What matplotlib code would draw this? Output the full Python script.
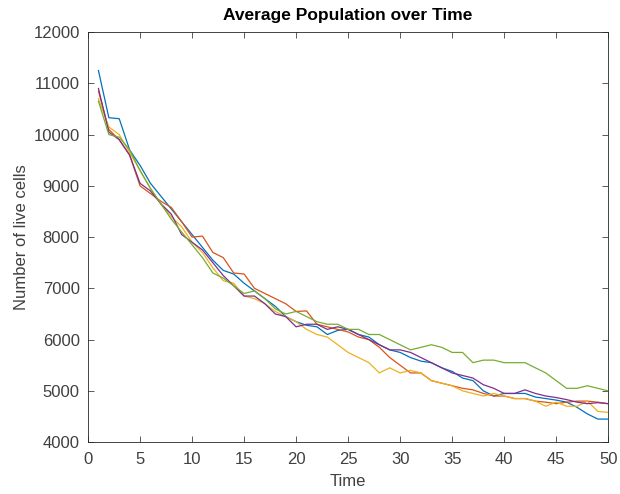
import matplotlib
matplotlib.use("Agg")
import matplotlib.pyplot as plt
import numpy as np

time = np.arange(1, 51)

blue = [11250, 10330, 10310, 9700, 9400, 9050, 8800, 8550, 8300, 8050,
        7800, 7550, 7350, 7280, 7100, 6950, 6800, 6650, 6450, 6350,
        6280, 6250, 6100, 6180, 6200, 6100, 6050, 5900, 5800, 5750,
        5650, 5580, 5550, 5450, 5380, 5250, 5200, 5000, 4900, 4950,
        4950, 4950, 4880, 4850, 4820, 4780, 4680, 4550, 4450, 4450]
orange = [10850, 10100, 9900, 9600, 9000, 8850, 8700, 8580, 8300, 8000,
          8020, 7700, 7600, 7300, 7280, 7000, 6900, 6800, 6700, 6550,
          6560, 6300, 6250, 6200, 6150, 6050, 6000, 5850, 5650, 5500,
          5350, 5350, 5200, 5150, 5100, 5050, 5020, 4950, 4900, 4900,
          4850, 4850, 4800, 4780, 4750, 4780, 4800, 4800, 4780, 4750]
yellow = [10700, 10150, 10000, 9650, 9300, 8950, 8650, 8400, 8200, 7900,
          7700, 7400, 7150, 7100, 6850, 6800, 6700, 6550, 6450, 6350,
          6200, 6100, 6050, 5900, 5750, 5650, 5550, 5350, 5450, 5350,
          5400, 5350, 5200, 5150, 5100, 5000, 4950, 4900, 4950, 4900,
          4850, 4850, 4800, 4700, 4780, 4700, 4700, 4800, 4600, 4580]
purple = [10900, 10050, 9900, 9600, 9050, 8900, 8650, 8450, 8050, 7900,
          7750, 7500, 7250, 7050, 6850, 6850, 6700, 6500, 6450, 6250,
          6300, 6300, 6200, 6250, 6200, 6100, 6000, 5900, 5800, 5800,
          5750, 5650, 5550, 5450, 5350, 5300, 5250, 5120, 5050, 4950,
          4950, 5020, 4950, 4900, 4870, 4830, 4780, 4750, 4770, 4750]
green = [10650, 10000, 9950, 9700, 9300, 8950, 8650, 8350, 8100, 7850,
         7600, 7300, 7200, 7050, 6900, 6950, 6800, 6600, 6500, 6550,
         6450, 6350, 6300, 6300, 6200, 6200, 6100, 6100, 6000, 5900,
         5800, 5850, 5900, 5850, 5750, 5750, 5550, 5600, 5600, 5550,
         5550, 5550, 5450, 5350, 5200, 5050, 5050, 5100, 5050, 5000]

series = [blue, orange, yellow, purple, green]
colors = ['#0072BD', '#D95319', '#EDB120', '#7E2F8E', '#77AC30']

plt.rcParams['font.family'] = ['Liberation Sans', 'DejaVu Sans']

fig = plt.figure(figsize=(6.2, 4.94), dpi=100)
ax = fig.add_axes([0.142, 0.105, 0.839, 0.830])
for vals, c in zip(series, colors):
    ax.plot(time, vals, color=c, linewidth=0.9)

ax.set_xlim(0, 50)
ax.set_ylim(4000, 12000)
ax.set_xticks(range(0, 51, 5))
ax.set_yticks(range(4000, 12001, 1000))
ax.tick_params(direction='in', top=True, right=True, labelsize=12,
               colors='#404040', length=4, width=0.6)
ax.tick_params(axis='x', pad=7)
ax.tick_params(axis='y', pad=6)
for s in ax.spines.values():
    s.set_color('#262626')
    s.set_linewidth(0.6)

ax.set_title('Average Population over Time', fontsize=12.5, fontweight='bold', pad=9)
ax.set_xlabel('Time', fontsize=12, color='#404040', labelpad=5)
ax.set_ylabel('Number of live cells', fontsize=12, color='#404040', labelpad=3)

fig.savefig('out.png', dpi=100)
